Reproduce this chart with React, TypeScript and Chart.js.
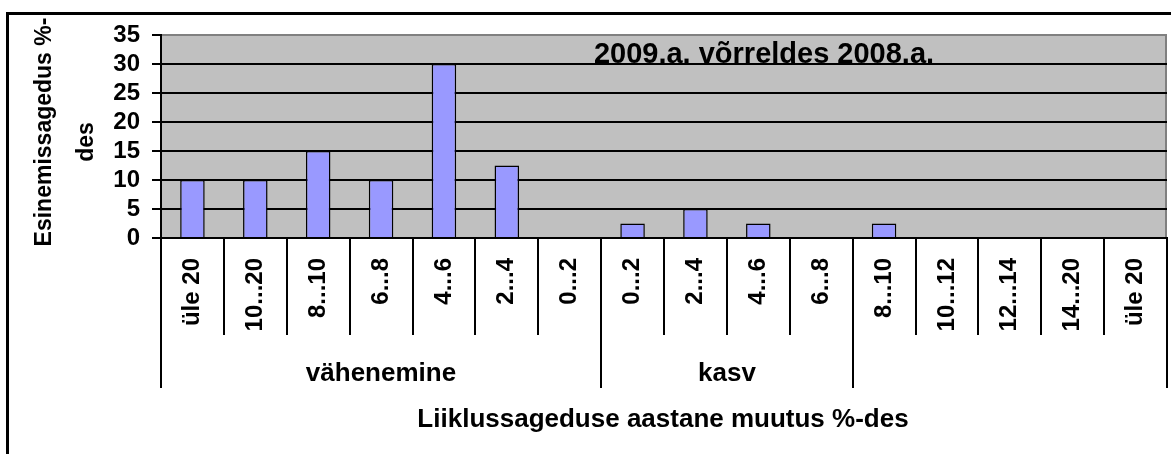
import React, { useEffect, useRef } from 'react';
import { Chart, registerables } from 'chart.js';

Chart.register(...registerables);

const categories = ['üle 20', '10...20', '8...10', '6...8', '4...6', '2...4', '0...2', '0...2', '2...4', '4...6', '6...8', '8...10', '10...12', '12...14', '14...20', 'üle 20'];
const frequencies = [10, 10, 15, 10, 30, 12.5, 0, 2.5, 5, 2.5, 0, 2.5, 0, 0, 0, 0];
const groupNames = ['vähenemine', 'kasv', ''];
const groupSizes = [7, 4, 5];
const yMin = 0;
const yMax = 35;
const yStep = 5;
const chartTitle = '2009.a. võrreldes 2008.a.';
const xTitle = 'Liiklussageduse aastane muutus %-des';
const yTitleLines = ['Esinemissagedus %-', 'des'];

const FONT = '"Liberation Sans", Arial, sans-serif';

const decor = {
  id: 'decor',
  beforeDraw(chart: any) {
    const { ctx, chartArea: a } = chart;
    ctx.save();
    ctx.fillStyle = '#ffffff';
    ctx.fillRect(0, 0, chart.width, chart.height);
    ctx.fillStyle = '#C0C0C0';
    ctx.fillRect(a.left, a.top, a.right - a.left, a.bottom - a.top);
    ctx.strokeStyle = '#808080';
    ctx.lineWidth = 2;
    ctx.beginPath();
    ctx.moveTo(a.right - 1, a.top);
    ctx.lineTo(a.right - 1, a.bottom);
    ctx.stroke();
    ctx.restore();
  },
  afterDraw(chart: any) {
    const { ctx, chartArea: a } = chart;
    const xs = chart.scales.x;
    const ys = chart.scales.y;
    const step = xs.getPixelForValue(1) - xs.getPixelForValue(0);
    const edge = (i: number) => Math.round(xs.getPixelForValue(0) - step / 2 + i * step);
    ctx.save();
    ctx.fillStyle = '#000';
    ctx.strokeStyle = '#000';

    // group separators
    ctx.lineWidth = 2;
    const bounds = [0];
    groupSizes.forEach((n) => bounds.push(bounds[bounds.length - 1] + n));
    bounds.forEach((b) => {
      ctx.beginPath();
      ctx.moveTo(edge(b), a.bottom + 90);
      ctx.lineTo(edge(b), a.bottom + 150);
      ctx.stroke();
    });

    // group labels
    ctx.font = 'bold 26px ' + FONT;
    ctx.textAlign = 'center';
    ctx.textBaseline = 'middle';
    groupNames.forEach((g, i) => {
      if (!g) return;
      const cx = (edge(bounds[i]) + edge(bounds[i + 1])) / 2;
      ctx.fillText(g, cx, a.bottom + 136);
    });

    // x title
    ctx.font = 'bold 26px ' + FONT;
    ctx.fillText(xTitle, (a.left + a.right) / 2 - 1, a.bottom + 182);

    // chart title
    ctx.font = 'bold 29px ' + FONT;
    ctx.textBaseline = 'alphabetic';
    ctx.fillText(chartTitle, a.left + 603, ys.getPixelForValue(30) - 1);

    // y title
    ctx.font = 'bold 23px ' + FONT;
    ctx.textBaseline = 'middle';
    const lineX = [45, 87];
    const lineY = [132, 142];
    yTitleLines.forEach((t, i) => {
      ctx.save();
      ctx.translate(lineX[i], lineY[i]);
      ctx.rotate(-Math.PI / 2);
      ctx.fillText(t, 0, 0);
      ctx.restore();
    });

    // outer frame
    ctx.lineWidth = 3;
    ctx.strokeRect(7.5, 13.5, 3000, 3000);
    ctx.restore();
  },
};

export default function App() {
  const ref = useRef<HTMLCanvasElement | null>(null);
  useEffect(() => {
    if (!ref.current) return;
    const chart = new Chart(ref.current, {
      type: 'bar',
      data: {
        labels: categories,
        datasets: [
          {
            data: frequencies,
            backgroundColor: '#9999FF',
            borderColor: '#000000',
            borderWidth: 1.5,
            barPercentage: 0.39,
            categoryPercentage: 1,
          },
        ],
      },
      options: {
        animation: false,
        responsive: false,
        devicePixelRatio: 1,
        layout: { padding: { top: 35, right: 4, left: 0, bottom: 0 } },
        plugins: {
          legend: { display: false },
          tooltip: { enabled: false },
          title: { display: false },
        },
        scales: {
          x: {
            type: 'category',
            offset: true,
            grid: {
              display: true,
              offset: true,
              drawOnChartArea: false,
              drawTicks: true,
              tickLength: 97,
              color: '#000',
              lineWidth: 2,
            },
            border: { display: true, color: '#000', width: 2 },
            ticks: {
              autoSkip: false,
              maxRotation: 90,
              minRotation: 90,
              padding: -77,
              color: '#000',
              font: { family: FONT, size: 24, weight: 'bold' },
            },
            afterFit: (s: any) => {
              s.height = 216;
            },
          },
          y: {
            min: yMin,
            max: yMax,
            grid: {
              color: (c: any) => (c.tick && c.tick.value === yMax ? '#808080' : '#000'),
              tickColor: '#000',
              lineWidth: 2,
              tickLength: 9,
              drawTicks: true,
            },
            border: { display: true, color: '#000', width: 2 },
            ticks: {
              stepSize: yStep,
              autoSkip: false,
              padding: 12,
              color: '#000',
              font: { family: FONT, size: 24, weight: 'bold' },
            },
            afterFit: (s: any) => {
              s.width = 161;
            },
          },
        },
      } as any,
      plugins: [decor],
    });
    return () => chart.destroy();
  }, []);
  return (
    <div style={{ position: 'absolute', left: 0, top: 0, width: 1171, height: 454 }}>
      <canvas ref={ref} width={1171} height={454} />
    </div>
  );
}
